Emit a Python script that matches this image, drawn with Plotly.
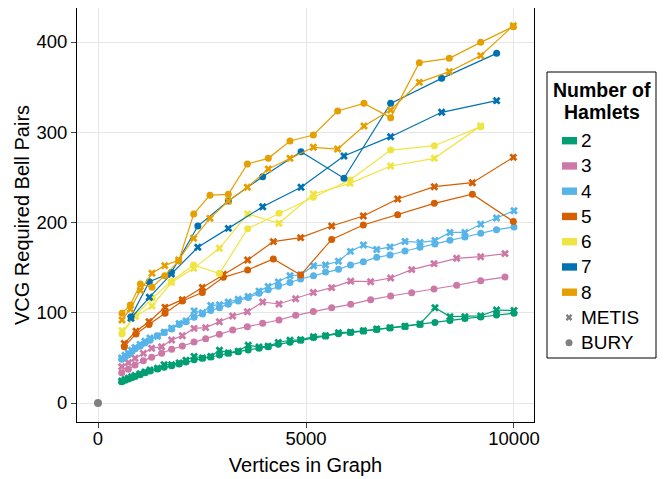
import plotly.graph_objects as go

# ---------------- data ----------------
x_dense = [570, 650, 730, 810, 890, 1010, 1130, 1250, 1430, 1590, 1770, 1950, 2115, 2310, 2510,
           2710, 2920, 3130, 3370, 3610, 3870, 4090, 4335, 4615, 4870, 5180, 5470, 5780, 6070,
           6380, 6700, 7020, 7380, 7740, 8100, 8460, 8820, 9200, 9580, 10000]

h2_bury = [23.6, 25.1, 26.6, 28.1, 29.5, 31.4, 33.6, 35.5, 37.7, 39.5, 41.4, 43.2, 45.4, 48.0, 49.5,
           51.0, 53.2, 55.0, 56.9, 58.7, 60.6, 62.4, 65.0, 67.2, 69.6, 72.5, 74.2, 76.8, 78.0,
           79.8, 81.5, 83.2, 84.8, 87.0, 89.2, 91.5, 93.5, 95.3, 97.5, 99.5]
h2_metis = [24.5, 26.0, 27.5, 29.0, 30.5, 32.5, 34.5, 36.5, 38.5, 42.5, 42.5, 44.5, 47.5, 51.5, 50.0,
            51.5, 58.5, 55.5, 57.5, 64.0, 62.0, 63.0, 67.0, 69.5, 70.0, 73.5, 74.5, 78.0, 78.5,
            80.0, 82.0, 83.5, 85.0, 87.5, 105.5, 95.7, 95.7, 96.5, 103.0, 102.5]

h3_x = [570, 730, 890, 1090, 1290, 1530, 1770, 2027, 2308, 2588, 2917, 3237, 3590, 3958, 4351,
        4752, 5176, 5617, 6074, 6554, 7035, 7540, 8077, 8622, 9199, 9784]
h3_bury = [33.6, 37.3, 42.1, 46.9, 50.6, 55.0, 59.5, 63.2, 67.6, 71.3, 76.1, 80.9, 84.6, 88.3, 92.0,
           97.1, 101.4, 105.5, 109.3, 114.5, 118.6, 122.3, 126.3, 130.5, 135.5, 139.5]
h3_metis = [40.3, 44.7, 49.5, 55.0, 60.6, 62.4, 69.8, 74.6, 82.7, 83.5, 90.1, 96.4, 101.2, 111.9, 109.7,
            115.6, 122.4, 127.8, 135.0, 134.4, 138.5, 147.8, 154.4, 160.3, 162.1, 165.5]

h4_bury = [48.5, 51.0, 53.5, 57.0, 60.0, 63.0, 66.5, 69.5, 74.5, 78.0, 82.0, 87.0, 90.0, 95.0, 98.5,
           102.5, 105.5, 109.5, 113.0, 117.0, 121.5, 125.5, 129.5, 133.5, 137.4, 141.1, 145.2, 148.1, 152.9,
           156.6, 161.4, 164.0, 168.4, 172.5, 176.2, 180.2, 183.9, 188.0, 192.1, 195.0]
h4_metis = [50.0, 53.0, 55.5, 58.5, 61.5, 65.0, 68.5, 72.0, 74.0, 78.5, 83.0, 88.0, 91.0, 102.0, 100.0,
            108.0, 109.0, 112.0, 115.0, 118.0, 124.0, 129.0, 134.0, 141.0, 142.0, 152.0, 153.0, 157.0, 168.0,
            175.0, 170.0, 173.0, 179.0, 178.0, 180.0, 189.0, 189.0, 198.0, 205.0, 213.0]

h5_x = [633, 913, 1226, 1611, 2027, 2508, 3013, 3598, 4215, 4872, 5617, 6378, 7204, 8085, 9000, 9984]
h5_bury = [62.4, 76.5, 87.0, 99.5, 113.0, 122.5, 139.2, 147.4, 159.6, 141.8, 181.3, 197.2, 208.5, 221.2, 231.4, 201.1]
h5_metis = [66.0, 79.5, 90.0, 106.0, 114.5, 128.0, 142.6, 158.4, 178.8, 183.2, 196.1, 207.2, 226.0, 239.7, 244.1, 272.2]

h6_x = [577, 898, 1298, 1763, 2300, 2917, 3598, 4351, 5176, 6058, 7035, 8085, 9199]
h6_bury = [76.5, 97.0, 116.0, 135.0, 152.9, 143.5, 193.2, 210.2, 227.9, 247.1, 280.3, 285.1, 306.2]
h6_metis = [80.0, 95.7, 107.5, 133.5, 149.2, 171.4, 209.4, 199.1, 231.6, 243.4, 262.6, 271.1, 306.9]

h7_x = [793, 1234, 1763, 2400, 3133, 3958, 4880, 5913, 7035, 8261, 9583]
h7_bury = [95.7, 134.4, 144.5, 196.1, 223.8, 250.8, 278.5, 249.0, 332.0, 359.7, 387.4]
h7_metis = [94.0, 117.1, 143.0, 172.5, 193.5, 217.5, 239.0, 273.7, 295.1, 322.1, 335.0]

h8_x = [577, 777, 1018, 1298, 1603, 1939, 2300, 2692, 3133, 3590, 4094, 4615, 5176, 5761, 6394,
        7035, 7724, 8445, 9199, 9984]
h8_bury = [99.4, 108.6, 131.9, 128.2, 141.1, 157.3, 209.4, 230.3, 231.2, 264.8, 271.1, 290.3, 297.0, 323.5, 332.0,
           316.2, 377.1, 381.9, 399.6, 417.0]
h8_metis = [92.0, 104.0, 125.0, 143.7, 152.2, 158.5, 182.5, 204.6, 223.8, 239.0, 259.3, 271.1, 283.3, 281.4, 306.9,
            324.7, 355.3, 367.1, 384.9, 418.1]

origin_x = [0]
origin_y = [0]

hamlets = ["2", "3", "4", "5", "6", "7", "8"]
colors = ["#009E73", "#CC79A7", "#56B4E9", "#D55E00", "#F0E442", "#0072B2", "#E69F00"]
x_ticks = [0, 5000, 10000]
y_ticks = [0, 100, 200, 300, 400]
legend_extra = ["METIS", "BURY"]
grey = "#808080"

series = [
    (x_dense, h2_metis, h2_bury),
    (h3_x, h3_metis, h3_bury),
    (x_dense, h4_metis, h4_bury),
    (h5_x, h5_metis, h5_bury),
    (h6_x, h6_metis, h6_bury),
    (h7_x, h7_metis, h7_bury),
    (h8_x, h8_metis, h8_bury),
]

FONT = "Liberation Sans, Arial, Helvetica, sans-serif"

fig = go.Figure()
fig.add_trace(go.Scatter(x=origin_x, y=origin_y, mode="markers",
                         marker=dict(symbol="circle", size=8, color=grey), showlegend=False))
for (xs, met, bur), col, name in zip(series, colors, hamlets):
    fig.add_trace(go.Scatter(x=xs, y=met, mode="lines+markers", name=name + " METIS",
                             line=dict(color=col, width=1.2),
                             marker=dict(symbol="x", size=7, color=col, line=dict(width=0)),
                             showlegend=False))
    fig.add_trace(go.Scatter(x=xs, y=bur, mode="lines+markers", name=name + " BURY",
                             line=dict(color=col, width=1.2),
                             marker=dict(symbol="circle", size=7, color=col),
                             showlegend=False))

# The page body has an 8px margin: work in page pixels and convert.
OFF = 8
W, H = 667 - OFF, 479 - OFF
L, R, T, B = 77, 534, OFF, 422          # plot area in page pixels
def px(p):
    return (p - L) / (R - L)
def py(p):
    return (B - p) / (B - T)

shapes = []
annotations = []
shapes.append(dict(type="rect", xref="paper", yref="paper",
                   x0=px(547), x1=px(656), y0=py(72), y1=py(358),
                   line=dict(color="black", width=1), fillcolor="white", layer="above"))
annotations.append(dict(text="<b>Number of</b>", xref="paper", yref="paper", x=px(601.5), y=py(90),
                        xanchor="center", yanchor="middle", showarrow=False,
                        font=dict(size=19.5, color="black", family=FONT)))
annotations.append(dict(text="<b>Hamlets</b>", xref="paper", yref="paper", x=px(601.5), y=py(111.5),
                        xanchor="center", yanchor="middle", showarrow=False,
                        font=dict(size=19.5, color="black", family=FONT)))
row0, step = 140.7, 25.25
for i, (name, col) in enumerate(zip(hamlets, colors)):
    c = row0 + i * step
    shapes.append(dict(type="rect", xref="paper", yref="paper",
                       x0=px(562), x1=px(577), y0=py(c + 3.7), y1=py(c - 3.7),
                       line=dict(width=0), fillcolor=col, layer="above"))
    annotations.append(dict(text=name, xref="paper", yref="paper", x=px(579), y=py(c),
                            xanchor="left", yanchor="middle", showarrow=False,
                            font=dict(size=19, color="black", family=FONT)))
cm = row0 + 7 * step
shapes.append(dict(type="path", xref="paper", yref="paper",
                   path=f"M {px(566.5)} {py(cm - 2.7)} L {px(571.5)} {py(cm + 2.7)} "
                        f"M {px(566.5)} {py(cm + 2.7)} L {px(571.5)} {py(cm - 2.7)}",
                   line=dict(color=grey, width=2.4), layer="above"))
annotations.append(dict(text=legend_extra[0], xref="paper", yref="paper", x=px(579), y=py(cm),
                        xanchor="left", yanchor="middle", showarrow=False,
                        font=dict(size=19, color="black", family=FONT)))
cb = row0 + 8 * step
shapes.append(dict(type="circle", xref="paper", yref="paper",
                   x0=px(565.5), x1=px(572.5), y0=py(cb + 3.5), y1=py(cb - 3.5),
                   line=dict(width=0), fillcolor=grey, layer="above"))
annotations.append(dict(text=legend_extra[1], xref="paper", yref="paper", x=px(579), y=py(cb),
                        xanchor="left", yanchor="middle", showarrow=False,
                        font=dict(size=19, color="black", family=FONT)))

axis_common = dict(showline=True, linecolor="black", linewidth=1, mirror=True,
                   ticks="outside", ticklen=5, tickcolor="#444", tickwidth=1,
                   showgrid=True, gridcolor="#e6e6e6", gridwidth=1, zeroline=False,
                   tickfont=dict(size=18.5, color="black", family=FONT))

# y value at the top of the plot area (page px 8) with the reference scale
y_top = (403 - T) / 0.9025

fig.update_layout(
    width=W, height=H,
    margin=dict(l=L - OFF, r=W - (R - OFF), t=0, b=H - (B - OFF), autoexpand=False),
    paper_bgcolor="white", plot_bgcolor="white",
    font=dict(family=FONT, color="black"),
    showlegend=False,
    xaxis=dict(range=[-505, 10481], tickvals=x_ticks, ticktext=[str(v) for v in x_ticks],
               ticklabelstandoff=-5,
               title=dict(text="Vertices in Graph", font=dict(size=20, family=FONT), standoff=9),
               **axis_common),
    yaxis=dict(range=[-21.05, y_top], tickvals=y_ticks, ticktext=[str(v) for v in y_ticks],
               title=dict(text="VCG Required Bell Pairs", font=dict(size=20, family=FONT), standoff=1),
               **axis_common),
    shapes=shapes,
    annotations=annotations,
)

fig.write_html("out.html")
